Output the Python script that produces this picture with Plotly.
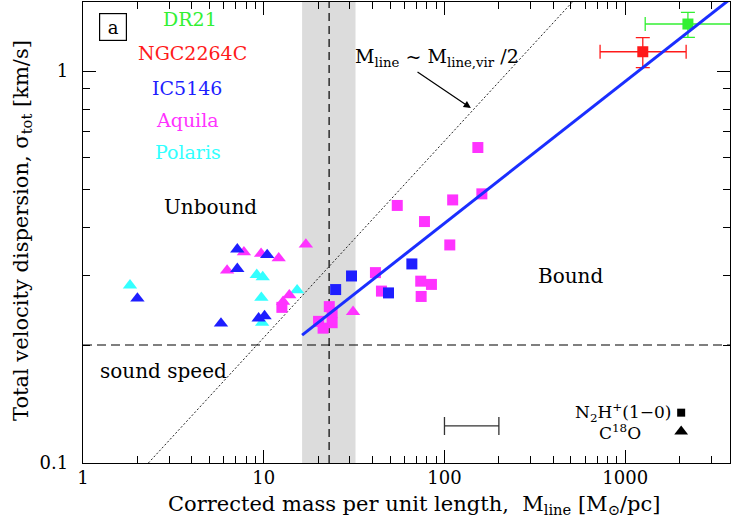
import numpy as np
import plotly.graph_objects as go

# ---------------- data ----------------
# Aquila, N2H+ (squares)
aquila_sq_x = [153, 161, 111, 54.8, 77.5, 107, 41.5, 73.9, 84.7, 44.8, 74.3, 12.6, 23.05, 23.9, 20.1, 23.9, 21.3]
aquila_sq_y = [0.638, 0.486, 0.469, 0.454, 0.413, 0.360, 0.306, 0.291, 0.2855, 0.2745, 0.266, 0.2495, 0.2506, 0.2418, 0.2298, 0.228, 0.2208]
# IC5146, N2H+ (squares)
ic5146_sq_x = [30.6, 25.0, 49.0, 66.0]
ic5146_sq_y = [0.300, 0.277, 0.2716, 0.322]
# Aquila, C18O (triangles)
aquila_tri_x = [17.1, 7.77, 9.67, 12.1, 6.27, 13.85, 12.8, 31.2]
aquila_tri_y = [0.361, 0.345, 0.342, 0.333, 0.310, 0.268, 0.258, 0.243]
# IC5146, C18O (triangles)
ic5146_tri_x = [7.14, 10.45, 7.14, 2.0, 5.8, 9.37, 10.1]
ic5146_tri_y = [0.351, 0.3395, 0.313, 0.263, 0.227, 0.234, 0.237]
# Polaris, C18O (triangles)
polaris_tri_x = [1.82, 9.15, 9.87, 9.7, 15.3, 9.8]
polaris_tri_y = [0.284, 0.302, 0.298, 0.264, 0.276, 0.228]
# DR21 and NGC2264C (squares with error bars)
dr21_x, dr21_xlo, dr21_xhi = [2223], [1290], [4500]
dr21_y, dr21_ylo, dr21_yhi = [1.318], [1.219], [1.412]
ngc_x, ngc_xlo, ngc_xhi = [1251], [726], [2173]
ngc_y, ngc_ylo, ngc_yhi = [1.12], [1.02], [1.217]

# reference lines
band_x = [16.3, 32.2]          # grey band of critical M_line
crit_x = 23.0                   # dashed vertical
sound_speed = 0.2               # dashed horizontal
fit_x = [16.3, 3800]            # best-fit power law (blue)
fit_y = [0.212, 1.525]
vir_x = [2.3, 510]              # M_line ~ M_line,vir / 2 (dotted)
vir_y = [0.1, 1.5]
scalebar_x = [100, 200]         # typical error bar
scalebar_y = 0.1243

x_range = [1, 3800]
y_range = [0.1, 1.5]
x_ticks = [1, 10, 100, 1000]
x_ticktext = ["1", "10", "100", "1000"]
y_ticks = [0.1, 1]
y_ticktext = ["0.1", "1"]

# ---------------- colours ----------------
C_GREEN = "#33f033"
C_RED = "#ff1a1a"
C_BLUE = "#1e1eff"
C_MAG = "#ff33ff"
C_CYAN = "#33ffff"
C_FIT = "#1a2eff"
FONT = "DejaVu Serif"
TRI = 12.5

fig = go.Figure()

# grey band
fig.add_trace(go.Scatter(
    x=[band_x[0], band_x[1], band_x[1], band_x[0], band_x[0]],
    y=[y_range[0], y_range[0], y_range[1], y_range[1], y_range[0]],
    fill="toself", fillcolor="#dcdcdc", line=dict(width=0), mode="lines",
    hoverinfo="skip"))
# vertical dashed line
fig.add_trace(go.Scatter(x=[crit_x, crit_x], y=y_range, mode="lines",
                         line=dict(color="black", width=1.2, dash="8px,5px")))
# horizontal sound speed line
fig.add_trace(go.Scatter(x=x_range, y=[sound_speed, sound_speed], mode="lines",
                         line=dict(color="black", width=1.2, dash="9px,5px")))
# dotted virial line
fig.add_trace(go.Scatter(x=vir_x, y=vir_y, mode="lines",
                         line=dict(color="#222222", width=1, dash="2px,2px")))

# triangles
fig.add_trace(go.Scatter(x=polaris_tri_x, y=polaris_tri_y, mode="markers",
                         marker=dict(symbol="triangle-up", size=TRI, color=C_CYAN, line=dict(width=0))))
fig.add_trace(go.Scatter(x=aquila_tri_x, y=aquila_tri_y, mode="markers",
                         marker=dict(symbol="triangle-up", size=TRI, color=C_MAG, line=dict(width=0))))
fig.add_trace(go.Scatter(x=ic5146_tri_x, y=ic5146_tri_y, mode="markers",
                         marker=dict(symbol="triangle-up", size=TRI, color=C_BLUE, line=dict(width=0))))
# squares
fig.add_trace(go.Scatter(x=aquila_sq_x, y=aquila_sq_y, mode="markers",
                         marker=dict(symbol="square", size=11, color=C_MAG, line=dict(width=0))))
fig.add_trace(go.Scatter(x=ic5146_sq_x, y=ic5146_sq_y, mode="markers",
                         marker=dict(symbol="square", size=11, color=C_BLUE, line=dict(width=0))))


def err_trace(x, xlo, xhi, y, ylo, yhi, color):
    return go.Scatter(
        x=x, y=y, mode="markers",
        marker=dict(symbol="square", size=11, color=color, line=dict(width=0)),
        error_x=dict(type="data", symmetric=False,
                     array=[a - b for a, b in zip(xhi, x)],
                     arrayminus=[b - a for a, b in zip(xlo, x)],
                     color=color, thickness=1.3, width=7),
        error_y=dict(type="data", symmetric=False,
                     array=[a - b for a, b in zip(yhi, y)],
                     arrayminus=[b - a for a, b in zip(ylo, y)],
                     color=color, thickness=1.3, width=7))


fig.add_trace(err_trace(ngc_x, ngc_xlo, ngc_xhi, ngc_y, ngc_ylo, ngc_yhi, C_RED))
fig.add_trace(err_trace(dr21_x, dr21_xlo, dr21_xhi, dr21_y, dr21_ylo, dr21_yhi, C_GREEN))

# best fit line
fig.add_trace(go.Scatter(x=fit_x, y=fit_y, mode="lines", line=dict(color=C_FIT, width=3)))

# scale bar (typical error)
sb_c = float(np.sqrt(scalebar_x[0] * scalebar_x[1]))
fig.add_trace(go.Scatter(
    x=[sb_c], y=[scalebar_y], mode="markers",
    marker=dict(size=1, color="rgba(0,0,0,0)"),
    error_x=dict(type="data", symmetric=False, array=[scalebar_x[1] - sb_c],
                 arrayminus=[sb_c - scalebar_x[0]], color="#333333", thickness=1.3, width=9)))

# symbol key markers
fig.add_trace(go.Scatter(x=[2040], y=[0.1344], mode="markers",
                         marker=dict(symbol="square", size=8, color="black")))
fig.add_trace(go.Scatter(x=[2040], y=[0.1203], mode="markers",
                         marker=dict(symbol="triangle-up", size=12, color="black")))

# ---------------- layout ----------------
L, R, T, B = 83, 1, 2, 64
W, H = 731, 527
PW, PH = W - L - R, H - T - B


def px(x):
    return (x - L) / PW


def py(y):
    return (H - B - y) / PH


ann = []


def text(x, y, s, size=19, color="black", xanchor="center", **kw):
    ann.append(dict(x=px(x), y=py(y), xref="paper", yref="paper", text=s, showarrow=False,
                    xanchor=xanchor, yanchor="middle",
                    font=dict(family=FONT, size=size, color=color), **kw))


text(190, 19, "DR21", color=C_GREEN)
text(192, 53, "NGC2264C", color=C_RED)
text(187, 88, "IC5146", color=C_BLUE)
text(187, 120, "Aquila", color=C_MAG)
text(188, 152, "Polaris", color=C_CYAN)
text(210, 207, "Unbound", size=20)
text(571, 276, "Bound", size=20)
text(163, 371, "sound speed", size=20)
text(437, 58, "M<sub>line</sub> ~ M<sub>line,vir</sub> /2", size=19)
text(673, 412, "N<sub>2</sub>H<sup>+</sup>(1−0)", size=17, xanchor="right")
text(643, 432, "C<sup>18</sup>O", size=17, xanchor="right")
text(112.5, 27, "a", size=18, bordercolor="black", borderwidth=1.2, borderpad=2, width=22, height=22)
# axis titles
text(414, 505, "Corrected mass per unit length,  M<sub>line</sub> [M<sub>⊙</sub>/pc]", size=21)
ann.append(dict(x=px(22), y=py(231), xref="paper", yref="paper", showarrow=False,
                text="Total velocity dispersion, σ<sub>tot</sub> [km/s]", textangle=-90,
                xanchor="center", yanchor="middle", font=dict(family=FONT, size=21, color="black")))
# arrow
ann.append(dict(x=np.log10(140), y=np.log10(0.805), xref="x", yref="y",
                ax=np.log10(69.6), ay=np.log10(1.0), axref="x", ayref="y",
                showarrow=True, arrowhead=2, arrowsize=1.2, arrowwidth=1.2, arrowcolor="black", text=""))

axis_common = dict(type="log", showgrid=False, zeroline=False, showline=True, linecolor="black",
                   linewidth=1.3, mirror="ticks", ticks="inside", ticklen=13, tickwidth=1.2,
                   tickcolor="black", tickfont=dict(family=FONT, size=18, color="black"),
                   minor=dict(ticks="inside", ticklen=7, tickwidth=1.1, tickcolor="black",
                              dtick="D1", showgrid=False))

fig.update_layout(
    width=W, height=H, margin=dict(l=L, r=R, t=T, b=B),
    paper_bgcolor="white", plot_bgcolor="white", showlegend=False,
    xaxis=dict(range=[np.log10(x_range[0]), np.log10(x_range[1])], tickmode="array",
               tickvals=x_ticks, ticktext=x_ticktext, ticklabelstandoff=-2, **axis_common),
    yaxis=dict(range=[np.log10(y_range[0]), np.log10(y_range[1])], tickmode="array",
               tickvals=y_ticks, ticktext=y_ticktext, ticklabelstandoff=10, **axis_common),
    annotations=ann,
)

fig.write_html("out.html")
